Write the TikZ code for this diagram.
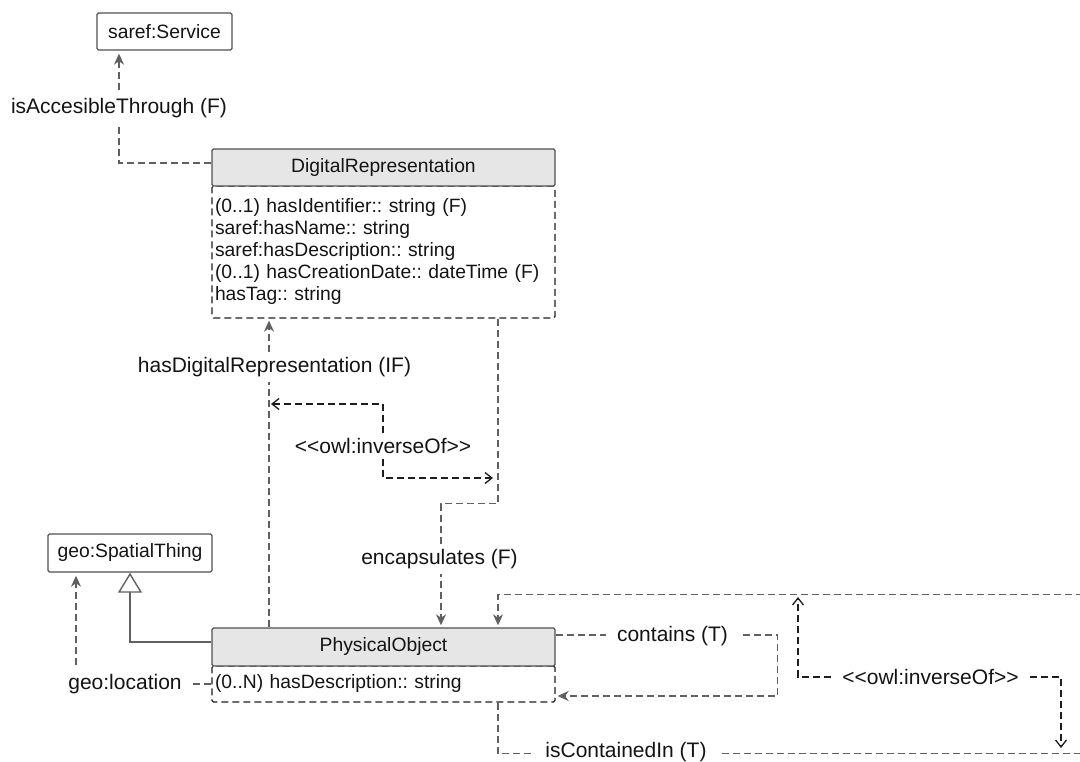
\documentclass[tikz,border=0pt]{standalone}
\usepackage{fontspec}
\setmainfont{Liberation Sans}
\usetikzlibrary{arrows.meta,calc}
\definecolor{cgray}{HTML}{606060}
\definecolor{hdrfill}{HTML}{E6E6E6}
\definecolor{bordr}{HTML}{505050}
\definecolor{txt}{HTML}{141414}
\definecolor{invc}{HTML}{1E1E1E}
\frenchspacing
\begin{document}
\begin{tikzpicture}[x=1pt,y=-1pt,
  classfont/.style={font=\fontsize{19.3}{22}\selectfont},
  lblfont/.style={font=\fontsize{21}{24}\selectfont},
  box/.style={draw=bordr, line width=1.4pt, rounded corners=1.5pt, inner sep=0pt, text=txt, classfont},
  hdr/.style={box, fill=hdrfill, minimum width=343pt, minimum height=37pt},
  attr/.style={draw=invc, line width=1.3pt, dash pattern=on 7pt off 4pt, rounded corners=1.5pt,
    minimum width=343pt, text width=337pt, align=left, inner xsep=3pt, inner ysep=0pt, text=txt, classfont},
  conn/.style={draw=cgray, line width=1.4pt, dash pattern=on 7pt off 4pt,
    -{Stealth[length=11pt,width=10pt,inset=3.5pt,fill=cgray]}},
  gen/.style={draw=cgray, line width=1.4pt, -{Triangle[open,length=20pt,width=24pt,fill=white]}},
  inv/.style={draw=invc, line width=1.3pt, dash pattern=on 7pt off 4pt,
    -{Straight Barb[length=7pt,width=11pt]}},
  lbl/.style={fill=white, text=txt, lblfont, inner xsep=11pt, inner ysep=5pt}
]
\useasboundingbox (0,0) rectangle (1080,762);
\clip (0,0) rectangle (1080,762);

% attribute compartments (drawn first, headers on top)
\node[attr, minimum height=132pt] (dra) at (383.5,252)
  {(0..1) hasIdentifier:: string (F)\\
   saref:hasName:: string\\
   saref:hasDescription:: string\\
   (0..1) hasCreationDate:: dateTime (F)\\
   hasTag:: string};
\node[attr, minimum height=36pt] (poa) at (383.5,684) {(0..N) hasDescription:: string};

% classes
\node[box, minimum width=135pt, minimum height=37pt] (service) at (164.5,31.5) {saref:Service};
\node[hdr] (drh) at (383.5,167.5) {DigitalRepresentation};
\node[box, minimum width=164pt, minimum height=38pt] (spatial) at (130,553) {geo:SpatialThing};
\node[hdr, minimum height=38pt] (poh) at (383.5,647) {PhysicalObject};

% isAccesibleThrough
\draw[conn] ([yshift=4.5pt]drh.west) -| ([xshift=-45.5pt,yshift=-3pt]service.south);
\node[lbl] (lab1) at (119,108) {isAccesibleThrough (F)};

% hasDigitalRepresentation
\draw[conn] ([xshift=-114.5pt]poh.north) -- ([xshift=-114.5pt,yshift=-2pt]dra.south);
\node[lbl] (lab2) at (274.5,367) {hasDigitalRepresentation (IF)};

% encapsulates
\draw[conn] ([xshift=114.5pt]dra.south) -- ++(0,185) -| ([xshift=57.5pt,yshift=2pt]poh.north);
\node[lbl] (lab3) at (439.5,559) {encapsulates (F)};

% isContainedIn
\draw[conn] ([xshift=114.5pt]poa.south) -- ++(0,51) -- ++(600,0) -- ++(0,-159)
  -| ([xshift=114.5pt,yshift=2pt]poh.north);
\node[lbl] (lab4) at (626,752) {isContainedIn (T)};

% contains
\draw[conn] ([yshift=12pt]poh.east) -- ++(222,0) |- ([xshift=2pt,yshift=-12pt]poa.east);
\node[lbl] (lab5) at (672.5,636) {contains (T)};

% geo:location
\draw[conn] (poa.west) -| ([xshift=-54pt,yshift=-3pt]spatial.south);
\node[lbl] (lab6) at (125,684) {geo:location};

% generalization
\draw[gen] ([yshift=5pt]poh.west) -| (spatial.south);

% owl:inverseOf (upper)
\coordinate (t1) at (271,404);
\coordinate (t2) at (493,478);
\node[lbl] (inv1) at (383,446) {<{}<owl:inverseOf>{}>};
\draw[inv] (inv1.north) |- (t1);
\draw[inv] (inv1.south) |- (t2);

% owl:inverseOf (lower)
\coordinate (t3) at (798,597);
\coordinate (t4) at (1061,748);
\node[lbl] (inv2) at (930.5,677) {<{}<owl:inverseOf>{}>};
\draw[inv] (inv2.west) -| (t3);
\draw[inv] (inv2.east) -| (t4);
\end{tikzpicture}
\end{document}
